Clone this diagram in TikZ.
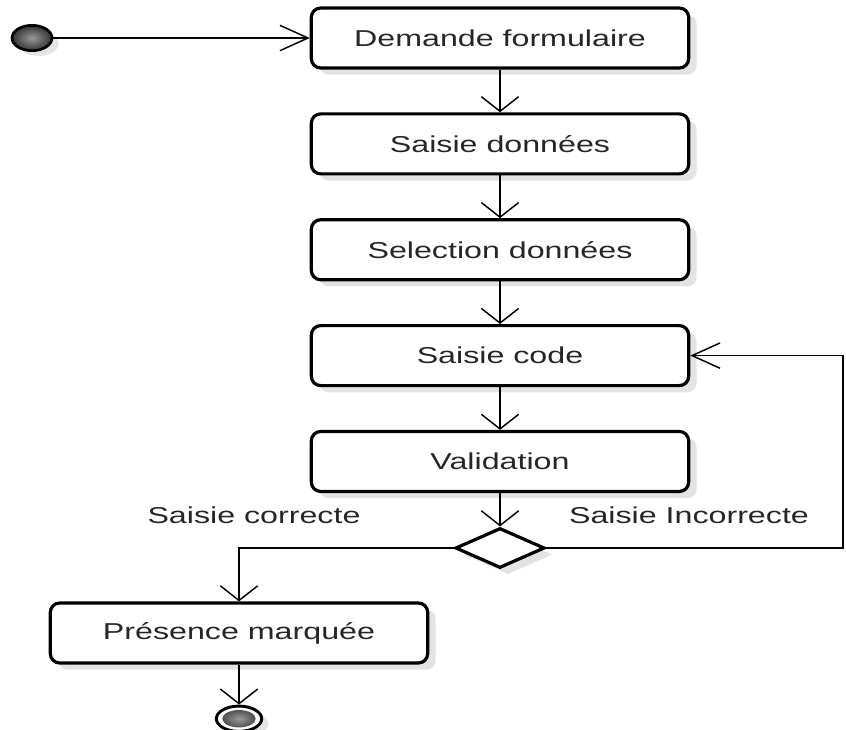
\documentclass[tikz,border=0pt]{standalone}
\usepackage{fontspec}
\setmainfont{Liberation Sans}[FakeStretch=1.4]
\usetikzlibrary{arrows.meta,positioning,shapes.geometric,shadows}
\tikzset{
    %Define arrow tips for vertical and horizontal flows
    vflow/.style={
           -{Straight Barb[length=11pt,width=28pt]},
           line width=1.1pt},
    hflow/.style={
           -{Straight Barb[length=21pt,width=19pt]},
           line width=1.1pt},
    %Define style for activity boxes
    activity/.style={
           rectangle,
           rounded corners=7pt,
           draw=black, line width=2.4pt,
           minimum width=283pt,
           minimum height=45pt,
           text=black!85,
           fill=white,
           drop shadow={shadow xshift=6pt,shadow yshift=-5pt,fill=black!22}},
    decision/.style={
           diamond,
           draw=black, line width=2.4pt,
           minimum width=67pt,
           minimum height=30pt,
           inner sep=0pt,
           fill=white,
           drop shadow={shadow xshift=6pt,shadow yshift=-5pt,fill=black!22}},
    initialstate/.style={
           ellipse,
           draw=black, line width=2pt,
           minimum width=30pt,
           minimum height=19pt,
           inner sep=0pt,
           shading=radial, inner color=gray!80, outer color=black!80,
           drop shadow={shadow xshift=5pt,shadow yshift=-4pt,fill=black!20}},
    finalstate/.style={
           ellipse,
           draw=black, line width=2.2pt,
           minimum width=34pt,
           minimum height=19pt,
           inner sep=0pt,
           fill=white,
           path picture={\shade[inner color=gray!80, outer color=black!80]
             (path picture bounding box.center) ellipse (12.5pt and 6.5pt);},
           drop shadow={shadow xshift=5pt,shadow yshift=-4pt,fill=black!20}},
    guard/.style={text=black!85}
}
\begin{document}
\begin{tikzpicture}[x=0.75pt,y=-0.75pt,node distance=32pt,
  font=\fontsize{17.25}{20}\selectfont]
\useasboundingbox (0,0) rectangle (846,729);

 %nodes
\node[initialstate] (0) at (32,38) {};
\node[activity] (1) at (500,38) {Demande formulaire};
\node[activity, below=of 1] (2) {Saisie données};
\node[activity, below=of 2] (3) {Selection données};
\node[activity, below=of 3] (4) {Saisie code};
\node[activity, below=of 4] (5) {Validation};
\node[decision, below=25pt of 5] (6) {};
\node[activity] (7) at (239,633) {Présence marquée};
\node[finalstate, below=30pt of 7] (8) {};
\coordinate (r) at (843,0);

 %guards
\node[guard] (ok) at (254,515) {Saisie correcte};
\node[guard] (ko) at (689,515) {Saisie Incorrecte};

 %flows
\path (0) edge[hflow] (1)
    (1) edge[vflow] (2)
    (2) edge[vflow] (3)
    (3) edge[vflow] (4)
    (4) edge[vflow] (5)
    (5) edge[vflow] (6)
    (7) edge[vflow] (8);
\draw[vflow] (6.west) -| (7);
\draw[hflow] (6.east) -- (6.east -| r) |- (4);

\end{tikzpicture}
\end{document}
